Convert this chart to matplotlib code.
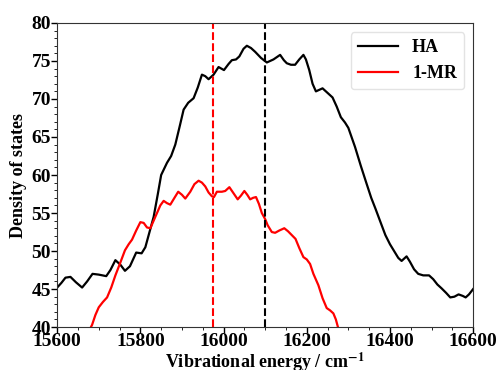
import matplotlib
matplotlib.use('Agg')
import matplotlib.pyplot as plt
from matplotlib.ticker import MultipleLocator

# Density of states
ha_x = [15600, 15610, 15620, 15632, 15645, 15660, 15672, 15685, 15700, 15718,
        15728, 15740, 15752, 15763, 15775, 15790, 15803, 15812, 15822, 15832,
        15842, 15850, 15864, 15874, 15884, 15895, 15904, 15915, 15928, 15938,
        15948, 15956, 15964, 15976, 15988, 16001, 16012, 16020, 16030, 16038,
        16048, 16056, 16066, 16076, 16090, 16104, 16112, 16120, 16136, 16145,
        16152, 16162, 16172, 16182, 16192, 16198, 16206, 16214, 16222, 16230,
        16238, 16250, 16262, 16272, 16282, 16292, 16300, 16316, 16330, 16343,
        16355, 16365, 16378, 16389, 16400, 16410, 16420, 16428, 16440, 16448,
        16458, 16468, 16480, 16494, 16504, 16514, 16524, 16535, 16545, 16555,
        16565, 16575, 16582, 16590, 16600]
ha_y = [45.2, 45.8, 46.5, 46.6, 45.9, 45.2, 46.0, 47.0, 46.9, 46.7,
        47.5, 48.8, 48.2, 47.4, 48.0, 49.8, 49.7, 50.5, 52.5, 54.5,
        57.5, 60.0, 61.6, 62.5, 64.0, 66.5, 68.6, 69.5, 70.1, 71.5,
        73.2, 73.0, 72.6, 73.2, 74.2, 73.8, 74.6, 75.1, 75.2, 75.6,
        76.6, 77.0, 76.7, 76.2, 75.4, 74.8, 75.0, 75.2, 75.8, 75.1,
        74.7, 74.5, 74.5, 75.2, 75.8, 75.2, 73.8, 72.0, 71.0, 71.2,
        71.4, 70.8, 70.2, 69.0, 67.6, 66.9, 66.2, 63.7, 61.2, 59.0,
        57.0, 55.6, 53.7, 52.1, 50.9, 50.0, 49.1, 48.7, 49.3, 48.6,
        47.6, 47.0, 46.8, 46.8, 46.3, 45.6, 45.1, 44.5, 43.9, 44.0,
        44.3, 44.1, 43.9, 44.3, 45.0]

mr_x = [15670, 15684, 15692, 15700, 15710, 15720, 15730, 15740, 15752, 15763,
        15772, 15780, 15790, 15800, 15808, 15816, 15824, 15832, 15840, 15848,
        15856, 15864, 15872, 15882, 15891, 15900, 15908, 15920, 15930, 15940,
        15948, 15956, 15964, 15972, 15977, 15984, 15996, 16004, 16014, 16024,
        16034, 16042, 16050, 16057, 16064, 16071, 16078, 16085, 16092, 16100,
        16106, 16116, 16124, 16134, 16146, 16155, 16164, 16173, 16182, 16192,
        16200, 16208, 16216, 16228, 16238, 16248, 16256, 16264, 16270, 16276,
        16282]
mr_y = [38.8, 40.3, 41.6, 42.6, 43.3, 43.9, 45.2, 46.8, 48.5, 50.1,
        50.9, 51.5, 52.7, 53.8, 53.7, 53.1, 53.0, 54.0, 55.0, 56.0,
        56.6, 56.3, 56.1, 57.0, 57.8, 57.4, 56.9, 57.8, 58.8, 59.25,
        59.0, 58.5, 57.7, 57.2, 57.1, 57.8, 57.8, 57.9, 58.4, 57.6,
        56.8, 57.3, 57.9, 57.4, 56.8, 57.0, 57.1, 56.2, 55.0, 54.2,
        53.4, 52.5, 52.4, 52.7, 53.0, 52.6, 52.1, 51.6, 50.4, 49.2,
        48.9, 48.3, 47.0, 45.5, 43.8, 42.5, 42.2, 41.8, 41.0, 39.8,
        38.5]

# mean energies (dashed lines)
ha_mean = 16100
mr_mean = 15975

plt.rcParams['font.family'] = ['Liberation Serif', 'DejaVu Serif']
plt.rcParams['font.weight'] = 'bold'
plt.rcParams['mathtext.fontset'] = 'stix'

fig = plt.figure(figsize=(4.97, 3.70), dpi=100)
ax = fig.add_axes([0.115, 0.116, 0.837, 0.822])

ax.plot(ha_x, ha_y, color='black', lw=1.6, label='HA')
ax.plot(mr_x, mr_y, color='red', lw=1.6, label='1-MR')
ax.axvline(ha_mean, color='black', ls='--', lw=1.5)
ax.axvline(mr_mean, color='red', ls='--', lw=1.5)

ax.set_xlim(15600, 16600)
ax.set_ylim(40, 80)
ax.xaxis.set_major_locator(MultipleLocator(200))
ax.xaxis.set_minor_locator(MultipleLocator(50))
ax.yaxis.set_major_locator(MultipleLocator(5))
ax.yaxis.set_minor_locator(MultipleLocator(1))
ax.tick_params(labelsize=14, width=1, length=4, pad=0.5)
ax.tick_params(which='minor', length=2)
for lab in ax.get_xticklabels() + ax.get_yticklabels():
    lab.set_fontweight('bold')
for sp in ax.spines.values():
    sp.set_color('#333333')

ax.set_xlabel(r'Vibrational energy / cm$^{\mathbf{-1}}$', fontsize=13, fontweight='bold', labelpad=0)
ax.set_ylabel('Density of states', fontsize=13, fontweight='bold', labelpad=3)

leg = ax.legend(loc='upper right', prop={'size': 13, 'weight': 'bold'}, handlelength=2.2)
leg.get_frame().set_edgecolor('#dddddd')

plt.savefig('out.png', dpi=100)
